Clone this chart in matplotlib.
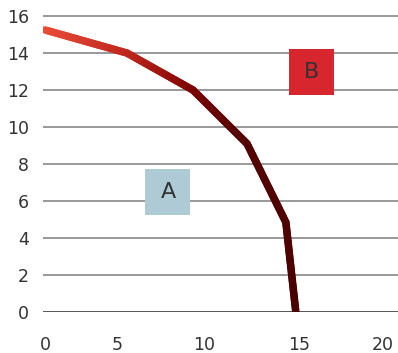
import matplotlib
matplotlib.use("Agg")
import matplotlib.pyplot as plt
import numpy as np
from matplotlib.collections import LineCollection
from matplotlib.colors import LinearSegmentedColormap
from matplotlib.patches import Rectangle

# curve values
curve_x = [0.0, 4.85, 8.76, 11.96, 14.26, 14.85]
curve_y = [15.25, 14.0, 12.0, 9.1, 4.85, 0.0]

y_ticks = [0, 2, 4, 6, 8, 10, 12, 14, 16]
x_tick_pos = [0.0, 4.26, 9.41, 15.03, 20.0]
x_tick_labels = ["0", "5", "10", "15", "20"]

# region labels: text, centre x, centre y, colour
regions = [("A", 7.28, 6.49, "#aecbd5"), ("B", 15.8, 12.97, "#d7262e")]

TEXT = "#333333"

fig = plt.figure(figsize=(3.98, 3.53), dpi=100)
ax = fig.add_axes([43 / 398, 41 / 353, 355 / 398, 301.5 / 353])
ax.set_xlim(-0.12, 20.9)
ax.set_ylim(0, 16.3)

for s in ax.spines.values():
    s.set_visible(False)

for y in y_ticks[1:]:
    ax.axhline(y, color="#999999", linewidth=1.4, zorder=1)
ax.axhline(0, color="#222222", linewidth=1.8, zorder=2)

ax.set_yticks(y_ticks)
ax.set_xticks(x_tick_pos)
ax.set_xticklabels(x_tick_labels)
ax.tick_params(axis="both", length=0, labelsize=12.5, labelcolor=TEXT)
ax.tick_params(axis="x", pad=17)
ax.tick_params(axis="y", pad=10)

# region boxes with letters
w, h = 45 / 16.9, 46 / 18.5
for label, cx, cy, col in regions:
    ax.add_patch(Rectangle((cx - w / 2, cy - h / 2), w, h, facecolor=col,
                           edgecolor="none", zorder=3))
    ax.text(cx, cy, label, ha="center", va="center", fontsize=16,
            color=TEXT, zorder=4)

# gradient line: split each segment so colour can follow the path length
fig.canvas.draw()
pts = ax.transData.transform(np.column_stack([curve_x, curve_y]))
seg_len = np.hypot(*np.diff(pts, axis=0).T)
cum = np.concatenate([[0], np.cumsum(seg_len)]) / seg_len.sum()

cmap = LinearSegmentedColormap.from_list(
    "grad", [(0, "#ea4c38"), (0.2, "#c0281e"), (0.3, "#a01510"),
             (0.4, "#780000"), (0.55, "#560000"), (1, "#4a0000")])

xs, ys, ts = [], [], []
for i in range(len(curve_x) - 1):
    f = np.linspace(0, 1, 30, endpoint=(i == len(curve_x) - 2))
    xs.extend(curve_x[i] + f * (curve_x[i + 1] - curve_x[i]))
    ys.extend(curve_y[i] + f * (curve_y[i + 1] - curve_y[i]))
    ts.extend(cum[i] + f * (cum[i + 1] - cum[i]))
xs, ys, ts = map(np.array, (xs, ys, ts))
segs = np.stack([np.column_stack([xs[:-1], ys[:-1]]),
                 np.column_stack([xs[1:], ys[1:]])], axis=1)
lc = LineCollection(segs, colors=cmap(ts[:-1]), linewidths=5.4,
                    capstyle="round", joinstyle="round", zorder=5)
ax.add_collection(lc)

fig.savefig("out.png", dpi=100)
